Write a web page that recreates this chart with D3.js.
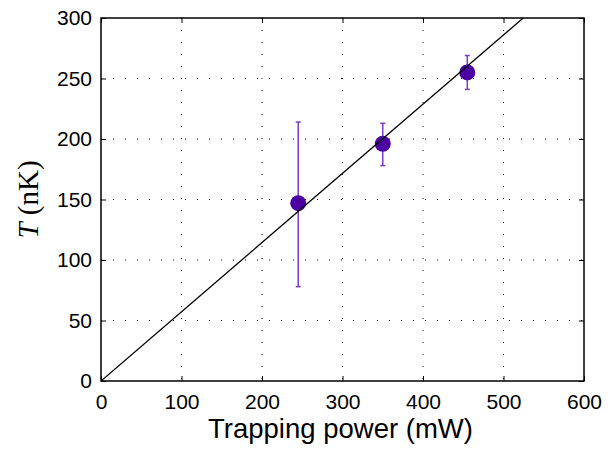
<!DOCTYPE html>
<html>
  <head>
    <script src="https://cdnjs.cloudflare.com/ajax/libs/d3/7.8.5/d3.min.js"></script>
    <style>
      body { margin: 0; background: #fff; }
    </style>
  </head>
  <body>
    <svg width="616" height="450"></svg>
    <script>
      // measured data
      var power = [245, 350, 455];
      var temp = [147, 196, 255];
      var errLow = [78, 178, 241];
      var errHigh = [214, 213, 269];
      // linear fit through origin: T = slope * P
      var fitSlope = 0.572;

      var xTicks = [0, 100, 200, 300, 400, 500, 600];
      var yTicks = [0, 50, 100, 150, 200, 250, 300];

      var pL = 101, pR = 584, pT = 18, pB = 381;
      var svg = d3.select("svg");

      var x = d3.scaleLinear().domain([0, 600]).range([pL, pR]);
      var y = d3.scaleLinear().domain([0, 300]).range([pB, pT]);

      var font = "'Liberation Sans', Arial, sans-serif";

      // grid
      var grid = svg.append("g");
      grid.selectAll(".gx")
        .data(xTicks.slice(1, -1))
        .enter()
        .append("line")
        .attr("x1", function (d) { return x(d); })
        .attr("x2", function (d) { return x(d); })
        .attr("y1", pT)
        .attr("y2", pB)
        .attr("stroke", "#000")
        .attr("stroke-width", 1)
        .attr("stroke-dasharray", "1,11");
      grid.selectAll(".gy")
        .data(yTicks.slice(1, -1))
        .enter()
        .append("line")
        .attr("y1", function (d) { return y(d); })
        .attr("y2", function (d) { return y(d); })
        .attr("x1", pL)
        .attr("x2", pR)
        .attr("stroke", "#000")
        .attr("stroke-width", 1)
        .attr("stroke-dasharray", "1,11");

      // axes with inward ticks
      var xAxis = d3.axisBottom(x).tickValues(xTicks).tickSizeInner(-5).tickSizeOuter(0).tickPadding(13);
      var yAxis = d3.axisLeft(y).tickValues(yTicks).tickSizeInner(-5).tickSizeOuter(0).tickPadding(9);
      var xTop = d3.axisTop(x).tickValues(xTicks).tickSizeInner(-5).tickSizeOuter(0).tickFormat("");
      var yRight = d3.axisRight(y).tickValues(yTicks).tickSizeInner(-5).tickSizeOuter(0).tickFormat("");

      svg.append("g").attr("class", "axis").attr("transform", "translate(0," + pB + ")").call(xAxis);
      svg.append("g").attr("class", "axis").attr("transform", "translate(" + pL + ",0)").call(yAxis);
      svg.append("g").attr("class", "axis").attr("transform", "translate(0," + pT + ")").call(xTop);
      svg.append("g").attr("class", "axis").attr("transform", "translate(" + pR + ",0)").call(yRight);

      svg.selectAll(".axis .domain").remove();
      svg.selectAll(".axis line").attr("stroke", "#000").attr("stroke-width", 1);
      svg.selectAll(".axis text")
        .attr("fill", "#000")
        .style("font-family", font)
        .style("font-size", "21px");

      // box
      svg.append("rect")
        .attr("x", pL)
        .attr("y", pT)
        .attr("width", pR - pL)
        .attr("height", pB - pT)
        .attr("fill", "none")
        .attr("stroke", "#000")
        .attr("stroke-width", 1.5);

      // error bars
      var pts = power.map(function (p, i) {
        return { p: p, t: temp[i], lo: errLow[i], hi: errHigh[i] };
      });
      var eb = svg.append("g").attr("stroke", "#7a3cc8").attr("stroke-width", 1.5);
      eb.selectAll(".v").data(pts).enter().append("line")
        .attr("x1", function (d) { return x(d.p); })
        .attr("x2", function (d) { return x(d.p); })
        .attr("y1", function (d) { return y(d.lo); })
        .attr("y2", function (d) { return y(d.hi); });
      eb.selectAll(".ct").data(pts).enter().append("line")
        .attr("x1", function (d) { return x(d.p) - 2.5; })
        .attr("x2", function (d) { return x(d.p) + 2.5; })
        .attr("y1", function (d) { return y(d.hi); })
        .attr("y2", function (d) { return y(d.hi); });
      eb.selectAll(".cb").data(pts).enter().append("line")
        .attr("x1", function (d) { return x(d.p) - 2.5; })
        .attr("x2", function (d) { return x(d.p) + 2.5; })
        .attr("y1", function (d) { return y(d.lo); })
        .attr("y2", function (d) { return y(d.lo); });

      // markers
      svg.append("g").selectAll("circle").data(pts).enter().append("circle")
        .attr("cx", function (d) { return x(d.p); })
        .attr("cy", function (d) { return y(d.t); })
        .attr("r", 8)
        .attr("fill", "#4c00a4");

      // fit line, clipped to plot area
      svg.append("clipPath").attr("id", "clip").append("rect")
        .attr("x", pL).attr("y", pT).attr("width", pR - pL).attr("height", pB - pT);
      svg.append("line")
        .attr("clip-path", "url(#clip)")
        .attr("x1", x(0))
        .attr("y1", y(0))
        .attr("x2", x(600))
        .attr("y2", y(600 * fitSlope))
        .attr("stroke", "#000")
        .attr("stroke-width", 1.3);

      // labels
      svg.append("text")
        .attr("x", (pL + pR) / 2 - 2)
        .attr("y", 438)
        .attr("text-anchor", "middle")
        .style("font-family", font)
        .style("font-size", "27.5px")
        .text("Trapping power (mW)");

      var yl = svg.append("text")
        .attr("transform", "translate(38," + (pB + pT) / 2 + ") rotate(-90)")
        .attr("text-anchor", "middle")
        .style("font-family", "'Liberation Serif', 'DejaVu Serif', serif")
        .style("font-size", "29px");
      yl.append("tspan").style("font-style", "italic").text("T");
      yl.append("tspan").text(" (nK)");
    </script>
  </body>
</html>
